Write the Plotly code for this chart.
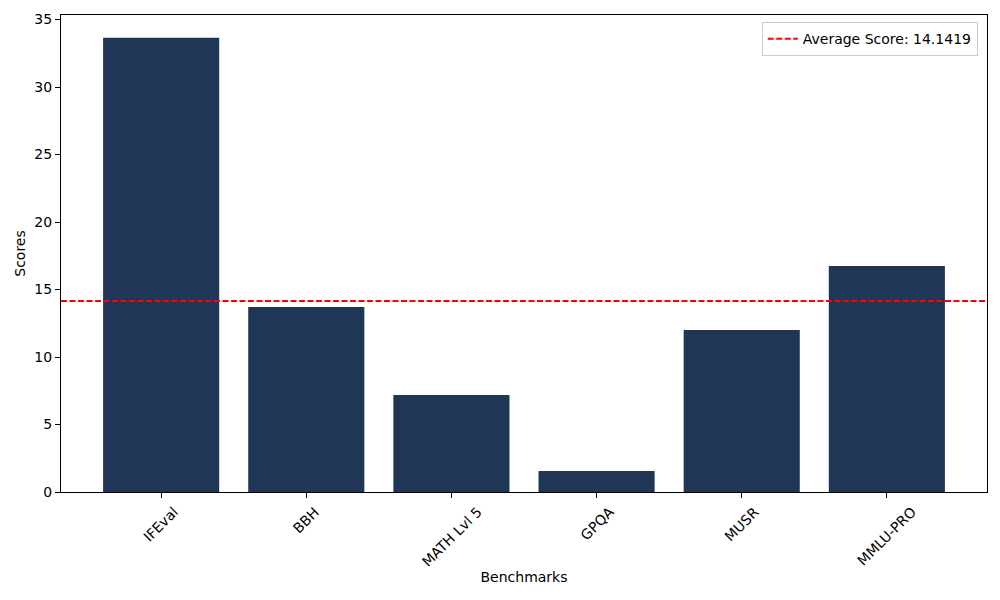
"""bar chart of benchmark scores with the average score as a dashed line"""

import plotly.graph_objects as go

benchmarks = ["IFEval", "BBH", "MATH Lvl 5", "GPQA", "MUSR", "MMLU-PRO"]
scores = [33.66, 13.70, 7.18, 1.55, 12.01, 16.75]
avg_score = 14.1419
y_ticks = [0, 5, 10, 15, 20, 25, 30, 35]

FONT = "DejaVu Sans"
x_pos = list(range(len(benchmarks)))
x_lo, x_hi = -0.69, len(benchmarks) - 1 + 0.69

fig = go.Figure()
fig.add_trace(go.Bar(x=x_pos, y=scores, width=0.8, marker_color="#1f3656",
                     marker_line_width=0, showlegend=False))
# average line, drawn as a trace so it shows in the legend
fig.add_trace(go.Scatter(x=[x_lo, x_hi], y=[avg_score, avg_score], mode="lines",
                         line=dict(color="red", width=2, dash="6px,2.5px"),
                         name="Average Score: " + str(avg_score)))

# rotated category labels centred under each tick, like matplotlib
for i, name in enumerate(benchmarks):
    fig.add_annotation(x=i, y=0, xref="x", yref="paper", text=name, showarrow=False,
                       textangle=-45, xanchor="center", yanchor="top", yshift=-9,
                       font=dict(family=FONT, size=14, color="black"))

fig.update_xaxes(range=[x_lo, x_hi], tickvals=x_pos, showticklabels=False,
                 ticks="outside", ticklen=5, tickcolor="black", automargin=False,
                 showline=True, linecolor="black", linewidth=1, mirror=True,
                 showgrid=False, zeroline=False,
                 title=dict(text="Benchmarks", standoff=75, font=dict(family=FONT, size=14)))
fig.update_yaxes(range=[0, 35.34], tickvals=y_ticks, ticks="outside", ticklen=5,
                 tickcolor="black", showline=True, linecolor="black", linewidth=1,
                 mirror=True, showgrid=False, zeroline=False, automargin=False,
                 tickfont=dict(family=FONT, size=14, color="black"),
                 title=dict(text="Scores", standoff=5, font=dict(family=FONT, size=14)))

# the page body adds an 8px margin, so the figure is 8px smaller each way
fig.update_layout(
    width=992, height=592,
    margin=dict(l=53, r=13, t=7, b=108),
    plot_bgcolor="white", paper_bgcolor="white",
    font=dict(family=FONT, size=14, color="black"),
    legend=dict(x=0.99, y=0.985, xanchor="right", yanchor="top",
                bgcolor="rgba(255,255,255,0.8)", bordercolor="#cccccc", borderwidth=1,
                font=dict(family=FONT, size=14)),
)

fig.write_html("out.html")
